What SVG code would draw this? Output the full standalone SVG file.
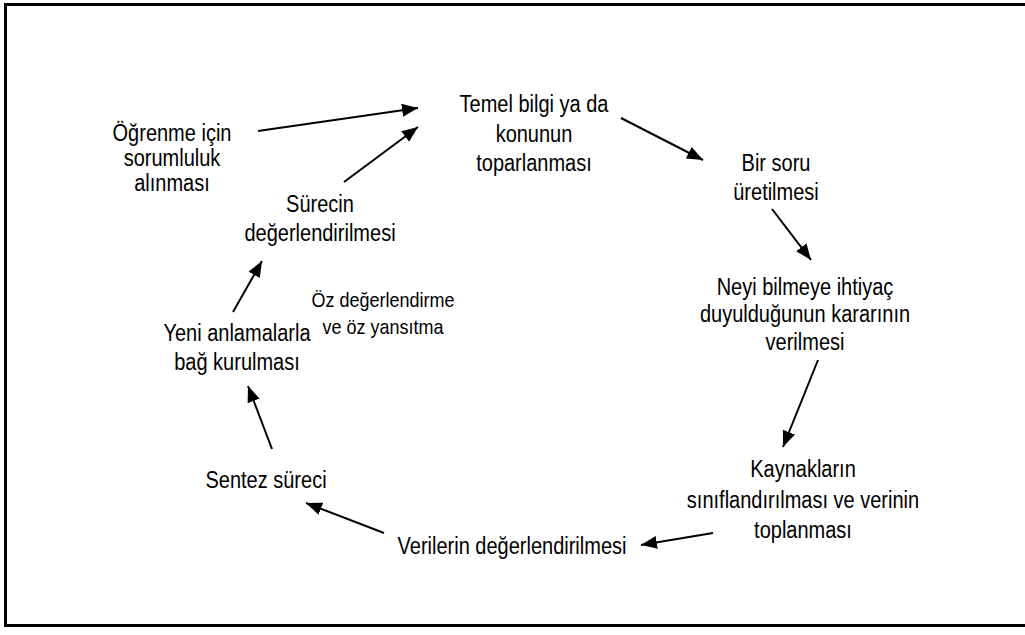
<svg xmlns="http://www.w3.org/2000/svg" width="1025" height="635" viewBox="0 0 1025 635">
  <style>
    .lbl { font-family: "Liberation Sans", Arial, sans-serif; font-size: 20px; fill: #000; text-anchor: middle; }
    .small { font-size: 18px; }
    .arr { stroke: #000; stroke-width: 2; fill: none; marker-end: url(#head); }
  </style>
  <defs>
    <marker id="head" markerUnits="userSpaceOnUse" markerWidth="17" markerHeight="14" refX="16" refY="6.5" orient="auto">
      <path d="M0,0 L16,6.5 L0,13 Z" fill="#000"/>
    </marker>
  </defs>
  <rect width="1025" height="635" fill="#fff"/>
  <!-- frame (open on the right side) -->
  <rect x="5.5" y="4.5" width="1030" height="621" fill="none" stroke="#000" stroke-width="3"/>

  <g id="connectors">
    <line class="arr" x1="258" y1="131" x2="418" y2="108"/>
    <line class="arr" x1="344" y1="182" x2="418" y2="127"/>
    <line class="arr" x1="621" y1="118" x2="703" y2="160"/>
    <line class="arr" x1="772" y1="209" x2="811" y2="260"/>
    <line class="arr" x1="818" y1="360" x2="783" y2="447"/>
    <line class="arr" x1="713" y1="533" x2="641" y2="545"/>
    <line class="arr" x1="384" y1="533" x2="306" y2="503"/>
    <line class="arr" x1="272" y1="449" x2="248" y2="386"/>
    <line class="arr" x1="233" y1="312" x2="262" y2="261"/>
  </g>

  <!-- labels are slightly tall: each line is stretched vertically about its baseline -->
  <g id="temel">
    <text class="lbl" transform="translate(534 112) scale(1 1.15)">Temel bilgi ya da</text>
    <text class="lbl" transform="translate(534 142) scale(1 1.15)">konunun</text>
    <text class="lbl" transform="translate(534 171) scale(1 1.15)">toparlanması</text>
  </g>
  <g id="soru">
    <text class="lbl" transform="translate(776 171) scale(1 1.15)">Bir soru</text>
    <text class="lbl" transform="translate(776 200) scale(1 1.15)">üretilmesi</text>
  </g>
  <g id="ihtiyac">
    <text class="lbl" transform="translate(805 295) scale(1 1.15)">Neyi bilmeye ihtiyaç</text>
    <text class="lbl" transform="translate(805 322) scale(1 1.15)">duyulduğunun kararının</text>
    <text class="lbl" transform="translate(805 350) scale(1 1.15)">verilmesi</text>
  </g>
  <g id="kaynaklar">
    <text class="lbl" transform="translate(803 477) scale(1 1.15)">Kaynakların</text>
    <text class="lbl" transform="translate(803 508) scale(1 1.15)">sınıflandırılması ve verinin</text>
    <text class="lbl" transform="translate(803 538) scale(1 1.15)">toplanması</text>
  </g>
  <g id="veriler">
    <text class="lbl" transform="translate(512 554) scale(1 1.15)">Verilerin değerlendirilmesi</text>
  </g>
  <g id="sentez">
    <text class="lbl" transform="translate(266 488) scale(1 1.15)">Sentez süreci</text>
  </g>
  <g id="anlamalar">
    <text class="lbl" transform="translate(237 341) scale(1 1.15)">Yeni anlamalarla</text>
    <text class="lbl" transform="translate(237 370) scale(1 1.15)">bağ kurulması</text>
  </g>
  <g id="surec">
    <text class="lbl" transform="translate(320 212) scale(1 1.15)">Sürecin</text>
    <text class="lbl" transform="translate(320 241) scale(1 1.15)">değerlendirilmesi</text>
  </g>
  <g id="sorumluluk">
    <text class="lbl" transform="translate(172 141) scale(1 1.15)">Öğrenme için</text>
    <text class="lbl" transform="translate(172 166) scale(1 1.15)">sorumluluk</text>
    <text class="lbl" transform="translate(172 191) scale(1 1.15)">alınması</text>
  </g>
  <g id="oz">
    <text class="lbl small" transform="translate(383 307) scale(1 1.15)">Öz değerlendirme</text>
    <text class="lbl small" transform="translate(383 334) scale(1 1.15)">ve öz yansıtma</text>
  </g>
</svg>
